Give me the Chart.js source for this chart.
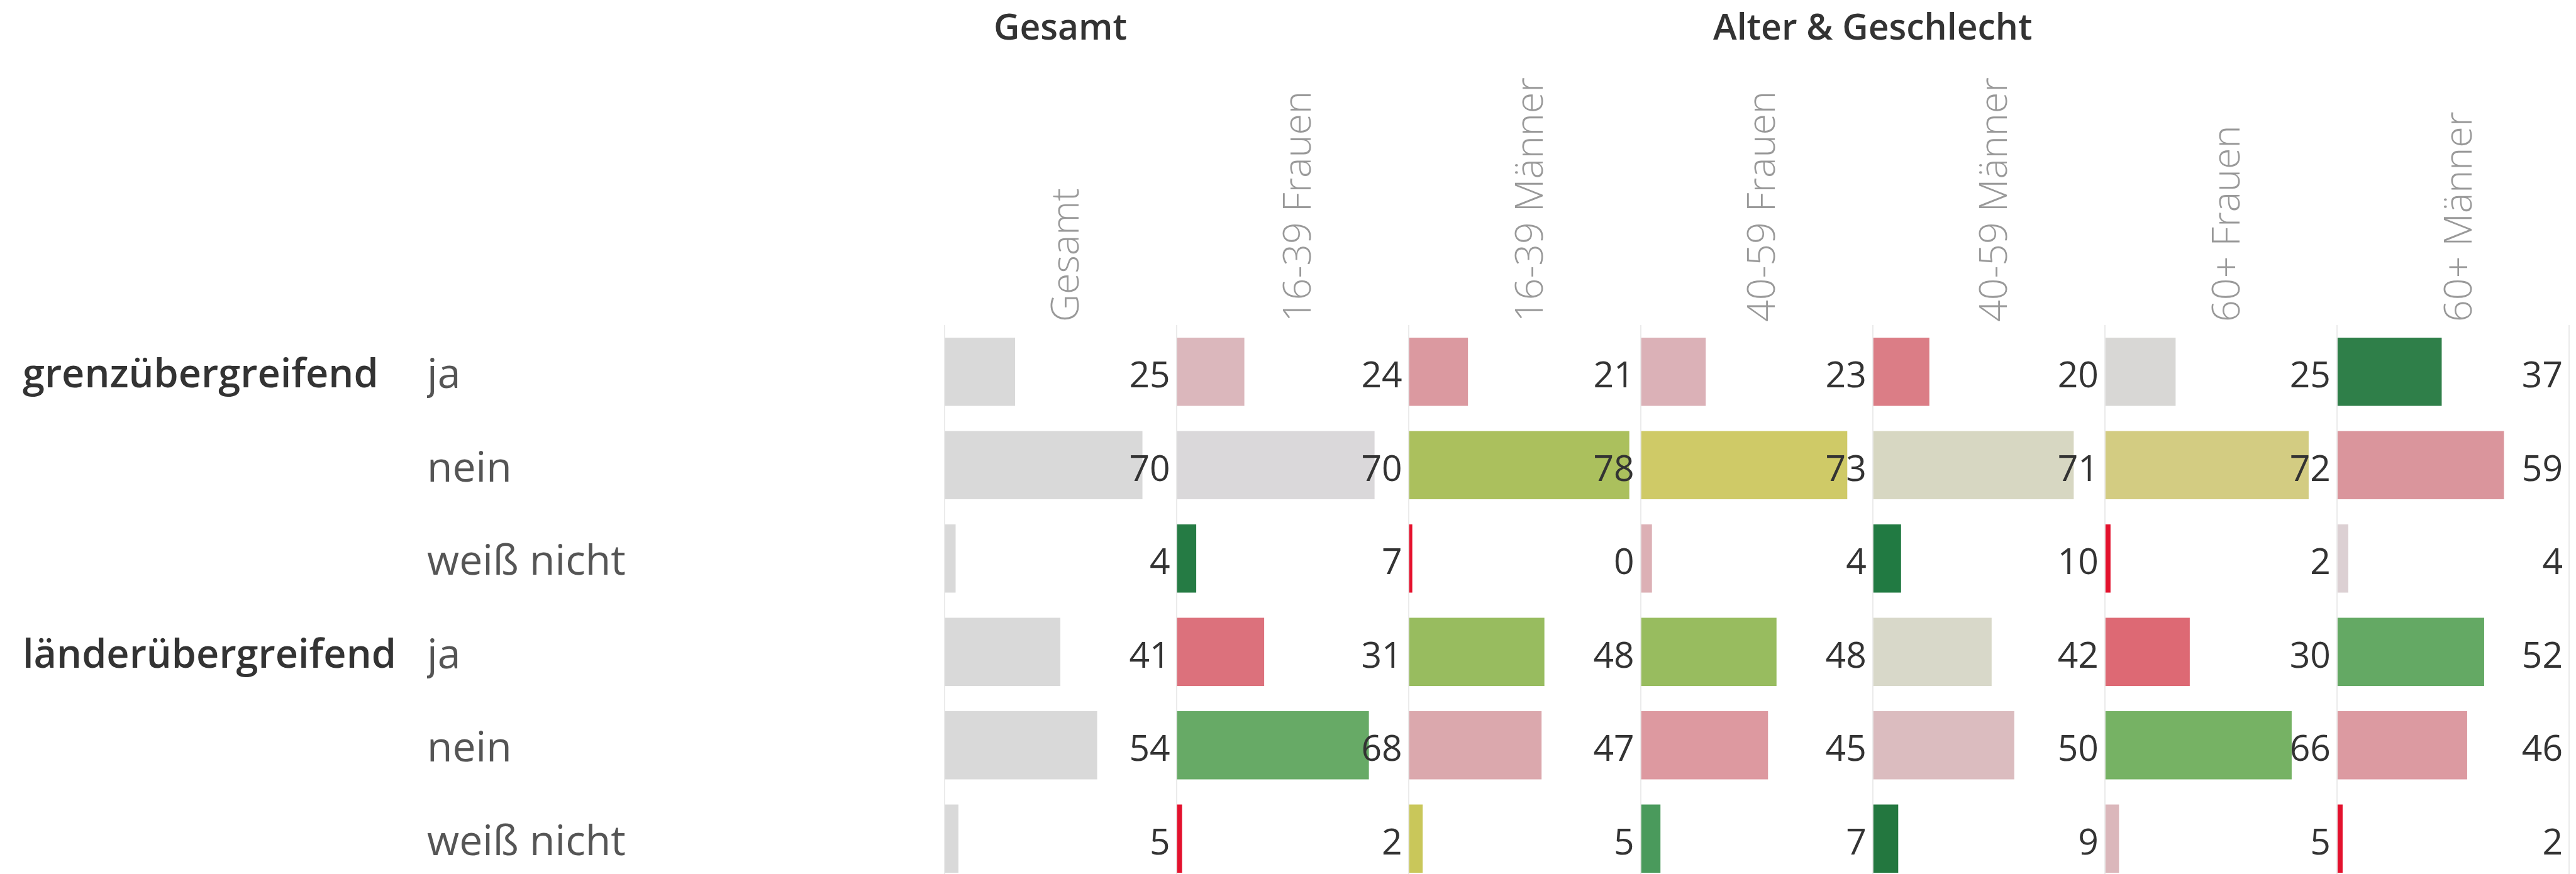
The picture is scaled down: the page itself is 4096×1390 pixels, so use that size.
<!DOCTYPE html>
<html>
<head>
<meta charset="utf-8">
<script src="https://cdn.jsdelivr.net/npm/chart.js@4.4.1/dist/chart.umd.min.js"></script>
<style>
  html, body { margin: 0; padding: 0; background: #fff; overflow: hidden; }
  #wrap { width: 4096px; height: 1408px; }
</style>
</head>
<body>
<div id="wrap"><canvas id="chart"></canvas></div>
<script>
// column headers (rotated) and the two header groups above them
const columns = ['Gesamt', '16-39 Frauen', '16-39 Männer', '40-59 Frauen', '40-59 Männer', '60+ Frauen', '60+ Männer'];
const groups = ['Gesamt', 'Alter & Geschlecht'];
// row headers
const topics = ['grenzübergreifend', '', '', 'länderübergreifend', '', ''];
const answers = ['ja', 'nein', 'weiß nicht', 'ja', 'nein', 'weiß nicht'];

// values in %, one array per column, rows in the order of answers
const gesamt      = [25, 70, 4, 41, 54, 5];
const frauen1639  = [24, 70, 7, 31, 68, 2];
const maenner1639 = [21, 78, 0, 48, 47, 5];
const frauen4059  = [23, 73, 4, 48, 45, 7];
const maenner4059 = [20, 71, 10, 42, 50, 9];
const frauen60    = [25, 72, 2, 30, 66, 5];
const maenner60   = [37, 59, 4, 52, 46, 2];

// bar colours per column
const colGesamt      = ['#d9d9d9', '#d9d9d9', '#d9d9d9', '#d9d9d9', '#d9d9d9', '#d9d9d9'];
const colFrauen1639  = ['#dbb7bc', '#dad8da', '#257b44', '#dc717c', '#67aa66', '#e3112d'];
const colMaenner1639 = ['#db99a0', '#abc05d', '#e5112d', '#98bc5f', '#dba8ad', '#c9c75a'];
const colFrauen4059  = ['#dbb1b7', '#cfca67', '#dcb0b5', '#98bc5f', '#dd99a0', '#4a9a5c'];
const colMaenner4059 = ['#db7d86', '#d7d7c2', '#217a42', '#d8d8c9', '#dbbcbf', '#23773f'];
const colFrauen60    = ['#d8d7d5', '#d3cc82', '#e3112d', '#dd6974', '#76b264', '#dbb7bb'];
const colMaenner60   = ['#2f7f49', '#da959c', '#dcd0d3', '#64a964', '#dc9aa1', '#e3112d'];

const values = [gesamt, frauen1639, maenner1639, frauen4059, maenner4059, frauen60, maenner60];
const colors = [colGesamt, colFrauen1639, colMaenner1639, colFrauen4059, colMaenner4059, colFrauen60, colMaenner60];

const X_MAX = 82;
const X_MID = 41;
const HDR_H = 100;
const COL_H = 417;

Chart.defaults.font.family = '"Open Sans", "DejaVu Sans", sans-serif';

const datasets = values.map((data, i) => ({
    label: columns[i],
    data: data,
    backgroundColor: colors[i],
    xAxisID: 'x' + i,
    yAxisID: 'y',
    grouped: false,
    categoryPercentage: 1,
    barPercentage: 0.73,
    minBarLength: 6
}));

const scales = {
    h0: headerAxis(groups[0], 1, 100),
    h1: headerAxis(groups[1], 6, 99),
    yg: {
        type: 'category',
        axis: 'y',
        position: 'left',
        labels: topics,
        offset: true,
        weight: 10,
        grid: { display: false },
        border: { display: false },
        ticks: { crossAlign: 'far', autoSkip: false, labelOffset: 7, color: '#333', font: { size: 63, weight: 600 } },
        afterFit: s => { s.width = 643; s.paddingTop = 0; s.paddingBottom = 0; }
    },
    y: {
        type: 'category',
        position: 'left',
        offset: true,
        weight: 5,
        grid: { display: false },
        border: { display: false },
        ticks: { crossAlign: 'far', autoSkip: false, labelOffset: 7, color: '#555', font: { size: 66 } },
        afterFit: s => { s.width = 822.5; s.paddingTop = 0; s.paddingBottom = 0; }
    }
};

columns.forEach((name, i) => {
    scales['x' + i] = {
        type: 'linear',
        axis: 'x',
        position: 'top',
        stack: 'cols',
        stackWeight: 1,
        weight: 50 - i,
        min: 0,
        max: X_MAX,
        afterBuildTicks: s => {
            s.ticks = i === columns.length - 1
                ? [{ value: 0 }, { value: X_MID }, { value: X_MAX }]
                : [{ value: 0 }, { value: X_MID }];
        },
        grid: {
            drawTicks: false,
            lineWidth: 2,
            color: c => (c.tick && c.tick.value === X_MID) ? 'rgba(0,0,0,0)' : '#ebebeb'
        },
        border: { display: false },
        ticks: {
            autoSkip: false,
            minRotation: 90,
            maxRotation: 90,
            padding: 5,
            labelOffset: 85,
            color: '#999',
            font: { size: 61, weight: 300 },
            callback: v => v === X_MID ? name : ''
        },
        afterFit: s => { s.height = COL_H; s.paddingLeft = 0; s.paddingRight = 0; }
    };
});

function headerAxis(text, share, weight) {
    return {
        type: 'linear',
        axis: 'x',
        position: 'top',
        stack: 'hdr',
        stackWeight: share,
        weight: weight,
        grid: { display: false },
        border: { display: false },
        ticks: { display: false },
        title: {
            display: true,
            text: text,
            color: '#333',
            font: { size: 57, weight: 600, lineHeight: 1 },
            padding: { top: 18, bottom: 0 }
        },
        afterFit: s => { s.height = HDR_H; s.paddingLeft = 0; s.paddingRight = 0; }
    };
}

// value labels, right-aligned at the end of each column
const valueLabels = {
    id: 'valueLabels',
    afterDatasetsDraw(chart) {
        const ctx = chart.ctx;
        ctx.save();
        ctx.font = '400 57px "Open Sans", "DejaVu Sans", sans-serif';
        ctx.fillStyle = '#333';
        ctx.textAlign = 'right';
        ctx.textBaseline = 'middle';
        chart.data.datasets.forEach((ds, i) => {
            const meta = chart.getDatasetMeta(i);
            const xs = chart.scales[meta.xAxisID];
            meta.data.forEach((bar, j) => {
                ctx.fillText(ds.data[j], xs.right - 10, bar.y + 9);
            });
        });
        ctx.restore();
    }
};

new Chart(document.getElementById('chart'), {
    type: 'bar',
    data: { labels: answers, datasets: datasets },
    options: {
        indexAxis: 'y',
        responsive: true,
        maintainAspectRatio: false,
        devicePixelRatio: 1,
        animation: false,
        layout: { padding: { left: 36, right: 11, top: 0, bottom: 0 } },
        plugins: { legend: { display: false }, tooltip: { enabled: false } },
        scales: scales
    },
    plugins: [valueLabels]
});
</script>
</body>
</html>
